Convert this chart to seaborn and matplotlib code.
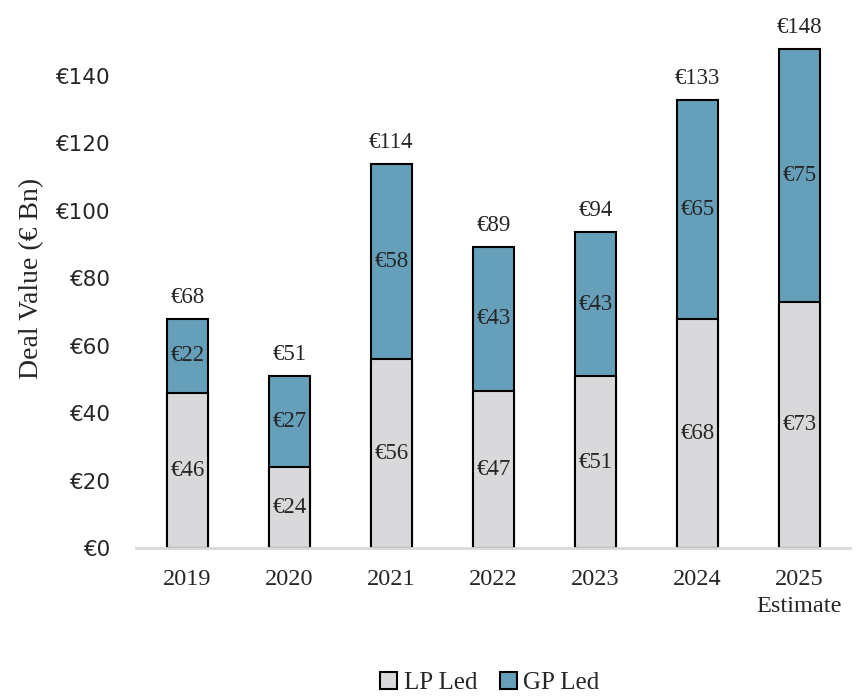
import numpy as np
import pandas as pd
import matplotlib
matplotlib.use("Agg")
import matplotlib.pyplot as plt
import seaborn as sns
from matplotlib.patches import Patch

# dados do gráfico
years = ["2019", "2020", "2021", "2022", "2023", "2024", "2025\nEstimate"]
lp_led = [46.0, 24.0, 56.0, 46.6, 50.9, 68.0, 73.0]
gp_led = [22.0, 27.0, 58.0, 42.7, 42.7, 65.0, 75.0]
yticks = [0, 20, 40, 60, 80, 100, 120, 140]

sns.set_theme(style="white")
plt.rcParams["font.family"] = ["Liberation Serif", "DejaVu Serif"]

df = pd.DataFrame({"year": years, "lp": lp_led, "gp": gp_led})
df["total"] = df["lp"] + df["gp"]

blue = "#659fba"
grey = "#d9d9db"

fig = plt.figure(figsize=(8.63, 6.96), dpi=100)
ax = fig.add_axes([0.158, 0.2126, 0.8275, 0.775])

# total primeiro (azul), depois LP por cima (cinza) -> barras empilhadas
sns.barplot(data=df, x="year", y="total", color=blue, width=0.4,
            edgecolor="black", linewidth=1.5, saturation=1, ax=ax)
sns.barplot(data=df, x="year", y="lp", color=grey, width=0.4,
            edgecolor="black", linewidth=1.5, saturation=1, ax=ax)

lab_size = 16.5
for i, row in df.iterrows():
    ax.text(i, row["lp"] / 2, f"€{round(row['lp'])}", ha="center", va="center", fontsize=lab_size)
    ax.text(i, row["lp"] + row["gp"] / 2, f"€{round(row['gp'])}", ha="center", va="center", fontsize=lab_size)
    ax.annotate(f"€{round(row['total'])}", (i, row["total"]), xytext=(0, 8),
                textcoords="offset points", ha="center", va="bottom", fontsize=lab_size)

ax.set_ylim(0, 160)
ax.set_xlim(-0.5, 6.5)
ax.set_yticks(yticks)
ax.set_yticklabels([f"€{v}" for v in yticks], fontsize=15.5, family=["DejaVu Sans"])
ax.tick_params(axis="x", labelsize=17.5, pad=9)
ax.tick_params(axis="y", pad=13)
for lbl in ax.get_xticklabels():
    lbl.set_linespacing(1.4)
ax.set_xlabel("")
ax.set_ylabel("Deal Value (€ Bn)", fontsize=20, labelpad=8)

sns.despine(ax=ax, left=True)
ax.spines["bottom"].set_color("#d9d9d9")
ax.spines["bottom"].set_linewidth(2)

handles = [Patch(facecolor=grey, edgecolor="black", linewidth=1.5, label="LP Led"),
           Patch(facecolor=blue, edgecolor="black", linewidth=1.5, label="GP Led")]
ax.legend(handles=handles, loc="center", bbox_to_anchor=(0.495, -0.25), ncol=2,
          frameon=False, fontsize=18, handlelength=0.7, handleheight=0.7,
          handletextpad=0.25, columnspacing=0.9)

fig.savefig("out.png", dpi=100)
